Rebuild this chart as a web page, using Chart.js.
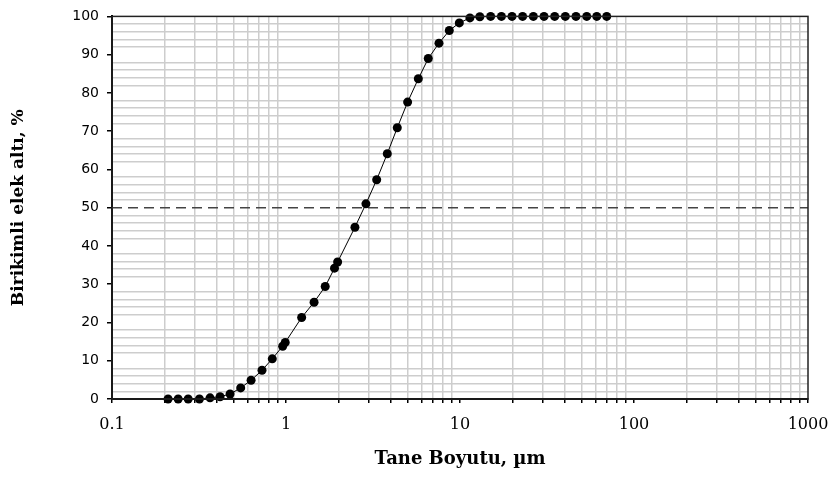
<!DOCTYPE html>
<html>
<head>
<meta charset="utf-8">
<script src="https://cdn.jsdelivr.net/npm/chart.js@4/dist/chart.umd.min.js"></script>
<style>
  body { margin: 0; background: #fff; }
</style>
</head>
<body>
<canvas id="psdChart" width="833" height="479"></canvas>
<script>
// Particle size (µm) and cumulative passing (%)
const sizes = [0.21, 0.24, 0.274, 0.318, 0.366, 0.418, 0.477, 0.549, 0.63, 0.728,
               0.834, 0.957, 0.99, 1.23, 1.45, 1.68, 1.9, 1.98, 2.49, 2.88,
               3.32, 3.82, 4.36, 5.0, 5.76, 6.57, 7.57, 8.68, 9.91, 11.4,
               13.0, 15.0, 17.3, 19.9, 22.9, 26.4, 30.4, 35.0, 40.3, 46.4,
               53.5, 61.1, 69.7];
const passing = [0, 0, 0, 0, 0.3, 0.6, 1.3, 2.9, 4.9, 7.5,
                 10.5, 13.8, 14.8, 21.3, 25.3, 29.4, 34.2, 35.8, 44.9, 51.0,
                 57.3, 64.1, 70.9, 77.6, 83.7, 89.0, 93.0, 96.3, 98.3, 99.6,
                 99.9, 100, 100, 100, 100, 100, 100, 100, 100, 100,
                 100, 100, 100];
const d50Level = 50;
const xMin = 0.1, xMax = 1000;
const xTitle = 'Tane Boyutu, µm';
const yTitle = 'Birikimli elek altı, %';

function isDecade(v) {
    const l = Math.log10(v);
    return Math.abs(l - Math.round(l)) < 1e-6;
}

// frame around the plot
const framePlugin = {
    id: 'frame',
    afterDraw(chart) {
        const a = chart.chartArea;
        const ctx = chart.ctx;
        ctx.save();
        ctx.strokeStyle = '#222';
        ctx.lineWidth = 1.5;
        ctx.strokeRect(a.left, a.top, a.right - a.left, a.bottom - a.top);
        ctx.restore();
    }
};

const ctx = document.getElementById('psdChart').getContext('2d');
const psdChart = new Chart(ctx, {
    type: 'line',
    data: {
        datasets: [{
            data: sizes.map((s, i) => ({ x: s, y: passing[i] })),
            borderColor: '#000',
            backgroundColor: '#000',
            borderWidth: 1,
            pointRadius: 4.5,
            pointBackgroundColor: '#000',
            pointBorderWidth: 0,
            tension: 0,
            clip: false,
            order: 1
        }, {
            data: [{ x: xMin, y: d50Level }, { x: xMax, y: d50Level }],
            borderColor: '#444',
            borderWidth: 1.5,
            borderDash: [10, 6],
            pointRadius: 0,
            order: 2
        }]
    },
    options: {
        responsive: false,
        animation: false,
        layout: { padding: { left: 0, top: 15, right: 25, bottom: 0 } },
        plugins: {
            legend: { display: false },
            tooltip: { enabled: false }
        },
        scales: {
            x: {
                type: 'logarithmic',
                min: xMin,
                max: xMax,
                afterBuildTicks(scale) {
                    const ticks = [];
                    for (let d = xMin; d < xMax * 0.999; d *= 10) {
                        for (let m = 1; m <= 9; m++) ticks.push({ value: +(d * m).toPrecision(6) });
                    }
                    ticks.push({ value: xMax });
                    scale.ticks = ticks;
                },
                afterFit(scale) {
                    scale.height = 80;
                    scale.paddingLeft = 0;
                    scale.paddingRight = 0;
                },
                ticks: {
                    autoSkip: false,
                    maxRotation: 0,
                    padding: 12,
                    color: '#000',
                    font: { family: 'DejaVu Serif', size: 16 },
                    callback: (v) => isDecade(v) ? String(v) : ''
                },
                grid: {
                    color: (c) => (c.tick && isDecade(c.tick.value)) ? 'rgba(0,0,0,0)' : '#cdcdcd',
                    lineWidth: 1.5,
                    tickColor: '#000',
                    tickLength: 4
                },
                border: { color: '#000', width: 2 },
                title: {
                    display: true,
                    text: xTitle,
                    color: '#000',
                    font: { family: 'DejaVu Serif', size: 18, weight: 'bold' },
                    padding: { top: 0, bottom: 9 }
                }
            },
            y: {
                min: 0,
                max: 100,
                afterFit(scale) { scale.width = 112; },
                ticks: {
                    stepSize: 2,
                    autoSkip: false,
                    padding: 8,
                    color: '#000',
                    font: { family: 'DejaVu Sans', size: 14 },
                    callback: (v) => v % 10 === 0 ? String(v) : ''
                },
                grid: {
                    color: (c) => (c.tick && c.tick.value % 10 === 0) ? 'rgba(0,0,0,0)' : '#cdcdcd',
                    lineWidth: 1.5,
                    tickColor: (c) => (c.tick && c.tick.value % 10 === 0) ? '#000' : 'rgba(0,0,0,0)',
                    tickLength: 5
                },
                border: { color: '#000', width: 2 },
                title: {
                    display: true,
                    text: yTitle,
                    color: '#000',
                    font: { family: 'DejaVu Serif', size: 17, weight: 'bold' },
                    padding: { top: 8, bottom: 0 }
                }
            }
        }
    },
    plugins: [framePlugin]
});
</script>
</body>
</html>
